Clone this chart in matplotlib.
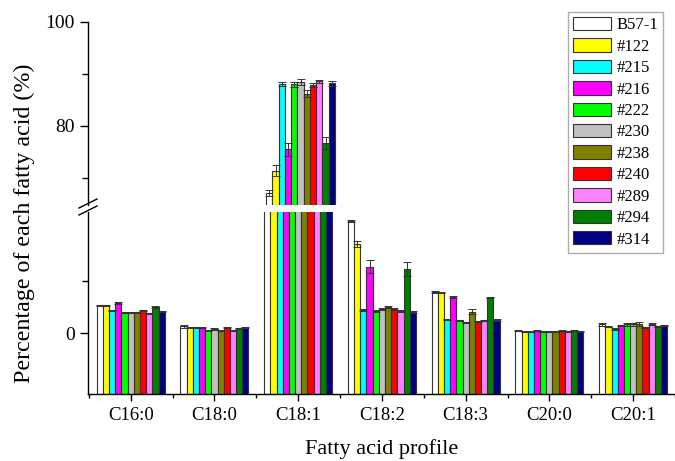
import numpy as np
import matplotlib
matplotlib.use("Agg")
import matplotlib.pyplot as plt
from matplotlib.lines import Line2D

plt.rcParams['font.family'] = ['Liberation Serif', 'DejaVu Serif']

# Fatty acid categories and strains
categories = ['C16:0', 'C18:0', 'C18:1', 'C18:2', 'C18:3', 'C20:0', 'C20:1']
strains = ['B57-1', '#122', '#215', '#216', '#222', '#230', '#238',
           '#240', '#289', '#294', '#314']
colors = ['#FFFFFF', '#FFFF00', '#00FFFF', '#FF00FF', '#00FF00', '#C0C0C0',
          '#808000', '#FF0000', '#FF80FF', '#008000', '#000080']

# values per strain (same order as categories), read on the plotted axis scale
B57_1 = [5.4, 1.35, 67.1, 21.6, 7.9, 0.5, 1.7]
s122 = [5.4, 1.1, 71.4, 17.1, 7.8, 0.25, 1.2]
s215 = [4.4, 1.1, 88.1, 4.4, 2.6, 0.25, 0.8]
s216 = [5.8, 1.0, 75.5, 12.8, 6.9, 0.45, 1.5]
s222 = [3.9, 0.6, 88.0, 4.2, 2.5, 0.3, 1.7]
s230 = [3.9, 0.8, 88.5, 4.6, 2.1, 0.25, 1.7]
s238 = [4.0, 0.5, 86.2, 5.0, 4.1, 0.25, 1.8]
s240 = [4.4, 1.0, 87.9, 4.6, 2.2, 0.45, 1.0]
s289 = [3.8, 0.6, 88.6, 4.3, 2.5, 0.25, 1.7]
s294 = [5.1, 0.9, 76.7, 12.3, 6.8, 0.5, 1.35]
s314 = [4.2, 1.0, 88.2, 4.1, 2.6, 0.3, 1.4]

# standard deviations
e_B57_1 = [0.1, 0.3, 0.5, 0.2, 0.2, 0.1, 0.3]
e122 = [0.1, 0.1, 1.0, 0.6, 0.1, 0.1, 0.1]
e215 = [0.1, 0.1, 0.4, 0.2, 0.1, 0.1, 0.1]
e216 = [0.2, 0.1, 1.2, 1.2, 0.2, 0.1, 0.1]
e222 = [0.1, 0.1, 0.5, 0.2, 0.1, 0.1, 0.3]
e230 = [0.1, 0.1, 0.6, 0.2, 0.1, 0.1, 0.3]
e238 = [0.1, 0.1, 0.7, 0.2, 0.5, 0.1, 0.4]
e240 = [0.1, 0.1, 0.4, 0.2, 0.1, 0.1, 0.1]
e289 = [0.1, 0.1, 0.3, 0.2, 0.1, 0.1, 0.2]
e294 = [0.2, 0.1, 1.2, 1.4, 0.1, 0.1, 0.1]
e314 = [0.1, 0.1, 0.5, 0.2, 0.2, 0.1, 0.1]

values = [B57_1, s122, s215, s216, s222, s230, s238, s240, s289, s294, s314]
errors = [e_B57_1, e122, e215, e216, e222, e230, e238, e240, e289, e294, e314]

fig = plt.figure(figsize=(6.75, 4.61), dpi=100)
W, H = 675.0, 461.0

# broken axis: lower part and upper part
ax_low = fig.add_axes([88 / W, (H - 394) / H, 1 - 88 / W, (394 - 212) / H])
ax_up = fig.add_axes([88 / W, (H - 205) / H, 1 - 88 / W, (205 - 22) / H])

low_lim = (-11.7, 23.3)
up_lim = (64.8, 100.0)

x = np.arange(1, len(categories) + 1)
w = 0.0738

for ax in (ax_low, ax_up):
    for j, (vals, errs) in enumerate(zip(values, errors)):
        pos = x + (j - 5) * w
        heights = np.array(vals) - low_lim[0]
        ax.bar(pos, heights, w, bottom=low_lim[0], color=colors[j],
               edgecolor='#333333', linewidth=0.8, label=strains[j])
        ax.errorbar(pos, vals, yerr=errs, fmt='none', ecolor='#333333',
                    elinewidth=0.7, capsize=3, capthick=0.7)
    ax.set_xlim(0.49, 7.42)
    for s in ('top', 'right'):
        ax.spines[s].set_visible(False)
    ax.spines['left'].set_linewidth(1.0)
    ax.tick_params(axis='y', which='major', direction='out', length=6,
                   width=1.0, labelsize=14)
    ax.tick_params(axis='y', which='minor', direction='out', length=4, width=1.0)

ax_low.set_ylim(*low_lim)
ax_up.set_ylim(*up_lim)

ax_low.set_yticks([0])
ax_low.set_yticks([10], minor=True)
ax_up.set_yticks([80, 100])
ax_up.set_yticks([70, 90], minor=True)

ax_up.spines['bottom'].set_visible(False)
ax_up.set_xticks([])

ax_low.set_xticks(x)
ax_low.set_xticklabels(categories)
ax_low.set_xticks(np.arange(0.5, 7.6, 1.0), minor=True)
ax_low.tick_params(axis='x', which='major', direction='out', length=5,
                   width=1.0, labelsize=13.5, pad=4)
ax_low.tick_params(axis='x', which='minor', direction='out', length=3, width=1.0)
ax_low.spines['bottom'].set_linewidth(1.0)

ax_low.set_xlabel('Fatty acid profile', fontsize=16, labelpad=11)
fig.text(24 / W, 1 - 223 / H, 'Percentage of each fatty acid (%)',
         rotation=90, fontsize=17.3, ha='center', va='center')

# break marks on the y axis
for y0 in (208, 215):
    fig.add_artist(Line2D([79 / W, 97 / W], [1 - y0 / H, 1 - (y0 - 9) / H],
                          color='black', linewidth=1.0,
                          transform=fig.transFigure))

handles, labels = ax_up.get_legend_handles_labels()
handles = [h for h in handles if hasattr(h, 'patches')]
leg = fig.legend(handles, strains, loc='upper right',
                 bbox_to_anchor=(663 / W, 1 - 12 / H), fontsize=12,
                 frameon=True, fancybox=False, borderpad=0.3,
                 handlelength=2.3, handleheight=0.85, labelspacing=0.3,
                 handletextpad=0.3, borderaxespad=0)
leg.get_frame().set_edgecolor('#999999')
leg.get_frame().set_linewidth(1.0)

fig.savefig('out.png', dpi=100)
